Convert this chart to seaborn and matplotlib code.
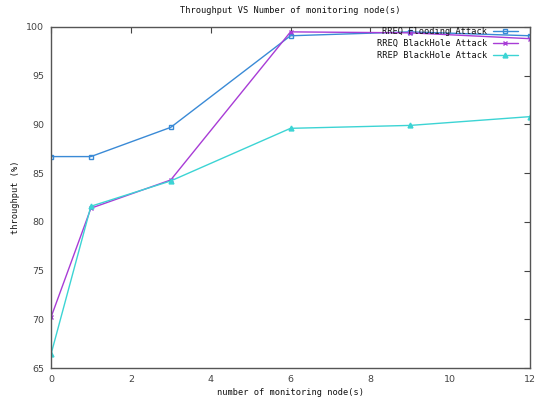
import matplotlib
matplotlib.use("Agg")
import matplotlib.pyplot as plt
import seaborn as sns
import pandas as pd

nodes = [0, 1, 3, 6, 9, 12]
rreq_flooding = [86.7, 86.7, 89.7, 99.1, 99.5, 99.1]
rreq_blackhole = [70.2, 81.4, 84.3, 99.5, 99.4, 98.8]
rrep_blackhole = [66.4, 81.6, 84.2, 89.6, 89.9, 90.8]
series_names = ["RREQ Flooding Attack", "RREQ BlackHole Attack", "RREP BlackHole Attack"]
xticks = [0, 2, 4, 6, 8, 10, 12]
yticks = [65, 70, 75, 80, 85, 90, 95, 100]

df = pd.DataFrame({
    "nodes": nodes * 3,
    "throughput": rreq_flooding + rreq_blackhole + rrep_blackhole,
    "series": [series_names[0]] * 6 + [series_names[1]] * 6 + [series_names[2]] * 6,
})

sns.set_style("white")
plt.rcParams["font.family"] = ["DejaVu Sans Mono"]

fig = plt.figure(figsize=(5.35, 4.0), dpi=100)
ax = fig.add_axes([0.0953, 0.08, 0.8954, 0.8525])

colors = ["#3a8ad6", "#a83cd6", "#3cd4d4"]
markers = ["s", "x", "^"]
mfc = ["none", "#a83cd6", "#3cd4d4"]
for name, c, m, fc in zip(series_names, colors, markers, mfc):
    sub = df[df["series"] == name]
    sns.lineplot(data=sub, x="nodes", y="throughput", ax=ax, color=c, marker=m,
                 markersize=3.5, markerfacecolor=fc, markeredgecolor=c, markeredgewidth=1,
                 linewidth=1.0, label=name, legend=False)

ax.set_xlim(0, 12)
ax.set_ylim(65, 100)
ax.set_xticks(xticks)
ax.set_yticks(yticks)
ax.tick_params(direction="in", length=4, width=0.8, top=True, right=True,
               labelsize=6.8, colors="#444444")
ax.tick_params(axis="x", pad=5)
ax.tick_params(axis="y", pad=5)
for lbl in ax.get_xticklabels() + ax.get_yticklabels():
    lbl.set_family("DejaVu Sans")
for s in ax.spines.values():
    s.set_color("#555555")
    s.set_linewidth(1.0)
    s.set_visible(True)

ax.set_title("Throughput VS Number of monitoring node(s)", fontsize=6.2, pad=10, color="#111111")
ax.set_xlabel("number of monitoring node(s)", fontsize=6.2, labelpad=3, color="#111111")
ax.set_ylabel("throughput (%)", fontsize=6.2, labelpad=4, color="#111111")

leg = ax.legend(loc="upper right", frameon=False, markerfirst=False, fontsize=6.2,
                handlelength=2.9, borderaxespad=0.0, labelspacing=0.35, handletextpad=0.7,
                bbox_to_anchor=(0.982, 1.01))
for t in leg.get_texts():
    t.set_color("#111111")

fig.savefig("out.png", dpi=100)
